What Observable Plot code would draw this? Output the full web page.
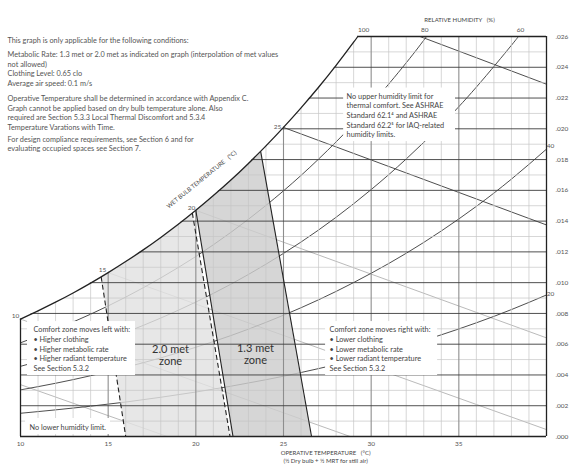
<!DOCTYPE html>
<html><head><meta charset="utf-8">
<script src="https://cdn.jsdelivr.net/npm/d3@7"></script>
<script src="https://cdn.jsdelivr.net/npm/@observablehq/plot@0.6"></script>
<style>
body{margin:0;background:#fff;}
#chart svg{display:block;}
</style></head><body><div id="chart"></div>
<script>
// ---- data (operative temperature °C, humidity ratio kg/kg) ----
const saturation = [[10,0.00763],[11,0.00817],[12,0.00873],[13,0.00933],[14,0.00997],[15,0.01065],[16,0.01137],[17,0.01213],[18,0.01294],[19,0.01379],[20,0.01470],[21,0.01566],[22,0.01667],[23,0.01775],[24,0.01889],[25,0.02009],[26,0.02136],[27,0.02270],[28,0.02412],[29,0.02563],[29.24,0.02600]];
const rh80 = [[10,0.00609],[12,0.00697],[14,0.00795],[16,0.00906],[18,0.01031],[20,0.01170],[22,0.01327],[24,0.01502],[26,0.01697],[28,0.01915],[30,0.02158],[32,0.02429],[33.16,0.02600]];
const rh60 = [[10,0.00456],[12,0.00521],[14,0.00595],[16,0.00677],[18,0.00770],[20,0.00874],[22,0.00990],[24,0.01120],[26,0.01264],[28,0.01425],[30,0.01605],[32,0.01804],[34,0.02025],[36,0.02271],[38,0.02543],[38.39,0.02600]];
const rh40 = [[10,0.00303],[12,0.00346],[14,0.00395],[16,0.00450],[18,0.00511],[20,0.00580],[22,0.00656],[24,0.00742],[26,0.00837],[28,0.00943],[30,0.01061],[32,0.01191],[34,0.01336],[36,0.01496],[38,0.01673],[40,0.01868]];
const rh20 = [[10,0.00151],[12,0.00173],[14,0.00197],[16,0.00224],[18,0.00255],[20,0.00289],[22,0.00327],[24,0.00369],[26,0.00416],[28,0.00468],[30,0.00526],[32,0.00590],[34,0.00661],[36,0.00739],[38,0.00825],[40,0.00920]];
// wet-bulb lines: [start T, start W, end T, end W]
const wetBulbLight = [[10,0.00337,18.37,0],[10,0.00763,28.80,0],[15,0.01065,40,0.00045],[20,0.01470,40,0.00641]];
const wetBulbDark = [[25,0.02009,40,0.01375],[32.79,0.02600,40,0.02290]];
// comfort-zone boundaries: [top T, top W, bottom T, bottom W]
const met20Left = [14.6,0.01038,16.0,0];
const met20Right = [19.8,0.01453,21.95,0];
const met13Left = [20.0,0.01470,22.12,0];
const met13Right = [23.7,0.01852,26.6,0];
// axes
const xTicks = [10,15,20,25,30,35];
const yTicks = [0,0.002,0.004,0.006,0.008,0.010,0.012,0.014,0.016,0.018,0.020,0.022,0.024,0.026];
const minorT = [11,12,13,14,16,17,18,19,21,22,23,24,26,27,28,29,31,32,33,34,36,37,38,39];
const majorT = [15,20,25,30,35];
const minorW = [0.001,0.003,0.005,0.007,0.009,0.011,0.013,0.015,0.017,0.019,0.021,0.023,0.025];
const majorW = [0.002,0.004,0.006,0.008,0.010,0.012,0.014,0.016,0.018,0.020,0.022,0.024];
const rhLabels = ["100","80","60","40","20"];
const wbLabels = ["10","15","20","25"];
// texts
const condText = [
 "This graph is only applicable for the following conditions:",
 "Metabolic Rate: 1.3 met or 2.0 met as indicated on graph (interpolation of met values\nnot allowed)\nClothing Level: 0.65 clo\nAverage air speed: 0.1 m/s",
 "Operative Temperature shall be determined in accordance with Appendix C.\nGraph cannot be applied based on dry bulb temperature alone. Also\nrequired are Section 5.3.3 Local Thermal Discomfort and 5.3.4\nTemperature Varations with Time.",
 "For design compliance requirements, see Section 6 and for\nevaluating occupied spaces see Section 7."
];
const upperNote = "No upper humidity limit for\nthermal comfort. See ASHRAE\nStandard 62.1\u2074 and ASHRAE\nStandard 62.2\u2075 for IAQ-related\nhumidity limits.";
const leftNote = "Comfort zone moves left with:\n\u2022 Higher clothing\n\u2022 Higher metabolic rate\n\u2022 Higher radiant temperature\nSee Section 5.3.2";
const rightNote = "Comfort zone moves right with:\n\u2022 Lower clothing\n\u2022 Lower metabolic rate\n\u2022 Lower radiant temperature\nSee Section 5.3.2";
const lowerNote = "No lower humidity limit.";
const zoneNames = ["2.0 met\nzone","1.3 met\nzone"];

// ---- derived geometry ----
const satBetween = (a, b) => saturation.filter(d => d[0] > a && d[0] < b);
const zone20 = [[met20Left[0],met20Left[1]], ...satBetween(met20Left[0], met20Right[0]), [met20Right[0],met20Right[1]], [met20Right[2],met20Right[3]], [met20Left[2],met20Left[3]]];
const zone13 = [[met13Left[0],met13Left[1]], ...satBetween(met13Left[0], met13Right[0]), [met13Right[0],met13Right[1]], [met13Right[2],met13Right[3]], [met13Left[2],met13Left[3]]];
const satTop = saturation[saturation.length-1];
const toSeg = a => ({x1:a[0],y1:a[1],x2:a[2],y2:a[3]});

// layout of annotations (data units)
const L = {
  cond: [[9.26,0.02580],[9.26,0.02392],[9.26,0.02106],[9.26,0.01904]],
  boxes: [
    {x1:28.43,x2:34.81,y1:0.01917,y2:0.02265},
    {x1:10.40,x2:16.56,y1:0.00396,y2:0.00747},
    {x1:27.40,x2:33.79,y1:0.00396,y2:0.00747},
    {x1:10.29,x2:15.13,y1:0.00013,y2:0.00117}
  ],
  upper:[28.6,0.02091], left:[10.74,0.00572], right:[27.63,0.00572], lower:[10.51,0.00059],
  zones:[[18.56,0.00526],[23.40,0.00533]],
  rh:[[29.57,0.02645],[33.05,0.02645],[38.52,0.02645],[40.23,0.01891],[40.23,0.00929]],
  rhTitle:[35.04,0.02704],
  wb:[[9.71,0.00786],[14.68,0.01085],[19.75,0.01488],[24.66,0.02015]],
  wbTitle:[20.33,0.0167],
  xTitle:[27.4,-0.00111], xSub:[27.4,-0.00157]
};

const dark = "#3a3a3a", grid = "#c6c6c6";
const txt = (text, pos, o={}) => Plot.text([text], {x: () => pos[0], y: () => pos[1], text: d => d, fontFamily:"Lato", ...o});

const chart = Plot.plot({
  width: 572, height: 466,
  marginLeft: 20, marginRight: 26, marginTop: 36, marginBottom: 30,
  x: {domain: [10, 40]},
  y: {domain: [0, 0.026]},
  style: {fontFamily: "Lato", background: "white", overflow: "visible"},
  marks: [
    // psychrometric curves
    Plot.link(wetBulbLight.map(toSeg), {x1:"x1",y1:"y1",x2:"x2",y2:"y2", stroke:"#a8a8a8", strokeWidth:0.8}),
    Plot.link(wetBulbDark.map(toSeg), {x1:"x1",y1:"y1",x2:"x2",y2:"y2", stroke:dark, strokeWidth:0.9}),
    ...[rh80, rh60, rh40, rh20].map(c => Plot.line(c, {x: d=>d[0], y: d=>d[1], curve:"natural", stroke:dark, strokeWidth:0.9})),
    // comfort zones
    Plot.line(zone20, {x:d=>d[0], y:d=>d[1], fill:"#e2e2e2", fillOpacity:0.82, stroke:"none"}),
    Plot.line(zone13, {x:d=>d[0], y:d=>d[1], fill:"#cdcdcd", fillOpacity:0.82, stroke:"none"}),
    // grid
    Plot.ruleX(minorT, {x:d=>d, y1:()=>0, y2:()=>0.026, stroke:grid, strokeWidth:0.7}),
    Plot.ruleY(minorW, {y:d=>d, x1:()=>10, x2:()=>40, stroke:grid, strokeWidth:0.7}),
    Plot.ruleX(majorT, {x:d=>d, y1:()=>0, y2:()=>0.026, stroke:"#8e8e8e", strokeWidth:1.1}),
    Plot.ruleY(majorW, {y:d=>d, x1:()=>10, x2:()=>40, stroke:"#3c3c3c", strokeWidth:0.9}),
    // blank region above saturation
    Plot.areaY(saturation, {x:d=>d[0], y1:d=>d[1], y2:()=>0.0285, fill:"white", curve:"natural"}),
    // saturation curve and frame
    Plot.line(saturation, {x:d=>d[0], y:d=>d[1], curve:"natural", stroke:"#222", strokeWidth:1.3}),
    Plot.ruleY([0], {x1:()=>10, x2:()=>40, stroke:"#222", strokeWidth:1.3}),
    Plot.ruleX([40], {y1:()=>0, y2:()=>0.026, stroke:"#222", strokeWidth:1.3}),
    Plot.ruleY([satTop[1]], {x1:()=>satTop[0], x2:()=>40, stroke:"#222", strokeWidth:1.3}),
    Plot.ruleX([saturation[0][0]], {y1:()=>0, y2:()=>saturation[0][1], stroke:"#222", strokeWidth:1.3}),
    // zone boundaries
    Plot.link([met20Left, met20Right].map(toSeg), {x1:"x1",y1:"y1",x2:"x2",y2:"y2", stroke:"#222", strokeWidth:1.1, strokeDasharray:"5,3"}),
    Plot.link([met13Left, met13Right].map(toSeg), {x1:"x1",y1:"y1",x2:"x2",y2:"y2", stroke:"#222", strokeWidth:1.1}),
    // note boxes
    Plot.rect(L.boxes, {x1:"x1",x2:"x2",y1:"y1",y2:"y2", fill:"white"}),
    // axes
    Plot.axisX({ticks:xTicks, tickSize:0, tickPadding:5, fontSize:6.5, fill:"#555", label:null, fontFamily:"Lato"}),
    Plot.axisY({anchor:"right", ticks:yTicks, tickSize:0, tickPadding:9, fontSize:6.5, fill:"#555", label:null, fontFamily:"Lato", tickFormat: d => d3.format(".3f")(d).slice(1)}),
    txt("OPERATIVE TEMPERATURE   (\u00B0C)", L.xTitle, {fontSize:6, fill:"#444"}),
    txt("(\u00BD Dry bulb + \u00BD MRT for still air)", L.xSub, {fontSize:6, fill:"#444"}),
    // humidity labels
    ...rhLabels.map((s,i) => txt(s, L.rh[i], {fontSize:6.5, fill:"#555"})),
    txt("RELATIVE HUMIDITY   (%)", L.rhTitle, {fontSize:6, fill:"#444"}),
    ...wbLabels.map((s,i) => txt(s, L.wb[i], {fontSize:6.5, fill:"#555"})),
    txt("WET BULB TEMPERATURE   (\u00B0C)", L.wbTitle, {fontSize:6, fill:"#444", rotate:-39}),
    // condition text
    ...condText.map((s,i) => txt(s, L.cond[i], {fontSize:7.3, fill:"#555", textAnchor:"start", lineHeight:1.32})),
    // notes
    txt(upperNote, L.upper, {fontSize:7.3, fill:"#444", textAnchor:"start", lineHeight:1.33}),
    txt(leftNote, L.left, {fontSize:7.3, fill:"#444", textAnchor:"start", lineHeight:1.33}),
    txt(rightNote, L.right, {fontSize:7.3, fill:"#444", textAnchor:"start", lineHeight:1.33}),
    txt(lowerNote, L.lower, {fontSize:7.3, fill:"#444", textAnchor:"start"}),
    ...zoneNames.map((s,i) => txt(s, L.zones[i], {fontSize:11, fill:"#333", lineHeight:1.08}))
  ]
});
document.getElementById("chart").appendChild(chart);
</script>
</body></html>
